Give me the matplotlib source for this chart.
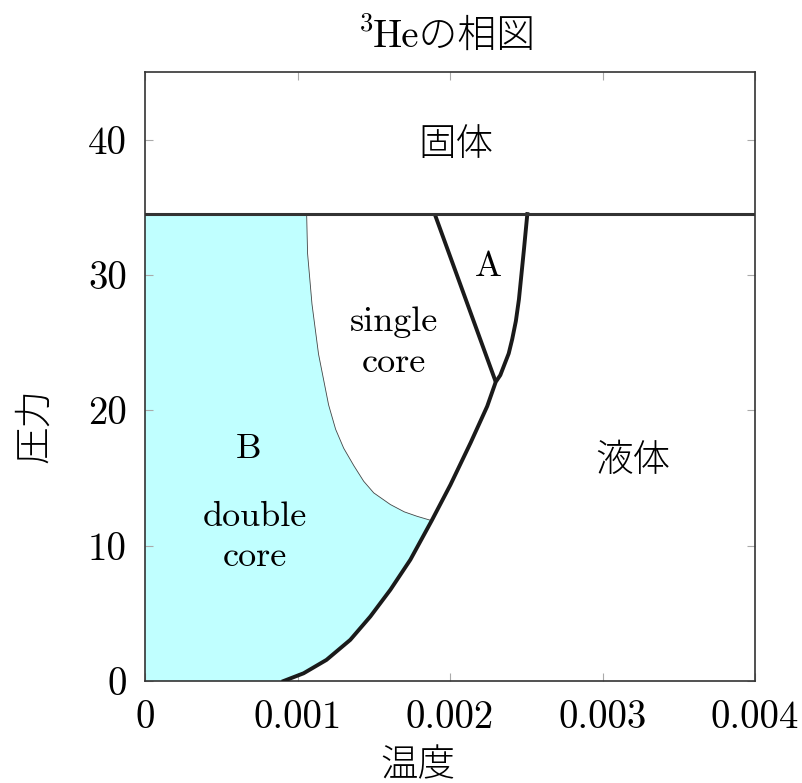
import matplotlib
matplotlib.use("Agg")
import matplotlib.pyplot as plt

plt.rcParams['font.family'] = ['cmr10', 'Noto Sans CJK JP']
plt.rcParams['axes.formatter.use_mathtext'] = False

# Melting pressure (solid boundary)
p_melt = 34.5

# Superfluid / normal liquid boundary (T, P)
tc_T = [0.000909, 0.00104, 0.00119, 0.001346, 0.001478, 0.001609, 0.00174, 0.00188,
        0.002003, 0.002135, 0.002244, 0.0023, 0.00233, 0.002354, 0.002385, 0.002408,
        0.002432, 0.002452, 0.002485, 0.002507]
tc_P = [0.0, 0.57, 1.56, 3.04, 4.77, 6.74, 8.96, 11.85,
        14.5, 17.6, 20.3, 22.1, 22.6, 23.3, 24.2, 25.26,
        26.6, 28.2, 31.9, 34.5]

# A-B phase boundary
ab_T = [0.0019, 0.0023]
ab_P = [34.5, 22.1]

# Single-core / double-core vortex boundary
vc_T = [0.00106, 0.001066, 0.001095, 0.001138, 0.001204, 0.00125, 0.001303, 0.00137,
        0.001434, 0.0015, 0.001609, 0.0017, 0.001784, 0.00188]
vc_P = [34.5, 31.6, 27.85, 24.15, 20.4, 18.6, 17.2, 15.9,
        14.76, 13.9, 13.04, 12.5, 12.17, 11.85]

x_ticks = [0, 0.001, 0.002, 0.003, 0.004]
x_ticklabels = ['0', '0.001', '0.002', '0.003', '0.004']
y_ticks = [0, 10, 20, 30, 40]

fig = plt.figure(figsize=(8.02, 7.83), dpi=100)
ax = fig.add_axes([145/802, 1-681/783, (755-145)/802, (681-72)/783])

# double-core region fill
j = tc_T.index(0.00188)
fill_T = [0.0, 0.0] + vc_T + tc_T[j - 1::-1]
fill_P = [0.0, p_melt] + vc_P + tc_P[j - 1::-1]
ax.fill(fill_T, fill_P, color='#c0ffff', lw=0, zorder=1)

ax.plot(vc_T, vc_P, color='#444444', lw=0.6, zorder=2)
ax.plot(tc_T, tc_P, color='#1a1a1a', lw=2.8, zorder=3, solid_joinstyle='round')
ax.plot(ab_T, ab_P, color='#1a1a1a', lw=2.8, zorder=3, solid_capstyle='butt')
ax.axhline(p_melt, color='#333333', lw=2.2, zorder=3)

ax.set_xlim(0, 0.004)
ax.set_ylim(0, 45)
ax.set_xticks(x_ticks)
ax.set_xticklabels(x_ticklabels)
ax.set_yticks(y_ticks)
ax.tick_params(direction='in', length=6, width=0.8, color='#aaaaaa',
               top=True, right=True, labelsize=28)
ax.tick_params(axis='x', pad=13.5)
ax.tick_params(axis='y', pad=13)
for s in ax.spines.values():
    s.set_color('#333333')
    s.set_linewidth(1.2)

jfs = 27
lfs = 26
ax.text(0.00204, 39.6, '固体', fontsize=jfs, ha='center', va='center', fontweight='light')
ax.text(0.00225, 30.6, 'A', fontsize=lfs, ha='center', va='center')
ax.text(0.00163, 25.0, 'single\ncore', fontsize=lfs, ha='center', va='center', linespacing=1.4)
ax.text(0.00068, 17.1, 'B', fontsize=lfs, ha='center', va='center')
ax.text(0.00072, 10.6, 'double\ncore', fontsize=lfs, ha='center', va='center', linespacing=1.35)
ax.text(0.0032, 16.3, '液体', fontsize=jfs, ha='center', va='center', fontweight='light')

ax.set_xlabel('温度', fontsize=27, fontweight='light')
ax.xaxis.set_label_coords(0.447, -0.111)
ax.set_ylabel('圧力', fontsize=27, fontweight='light')
ax.yaxis.set_label_coords(-0.152, 0.42)

# title: superscript mass number followed by the rest
title = ax.text(0.507, 1.041, 'Heの相図', fontsize=28, ha='center', va='baseline',
                transform=ax.transAxes, fontweight='light')
ax.annotate('3', xy=(0, 1.068), xycoords=(title, 'axes fraction'), fontsize=19,
            ha='right', va='baseline')

fig.savefig('out.png', dpi=100)
